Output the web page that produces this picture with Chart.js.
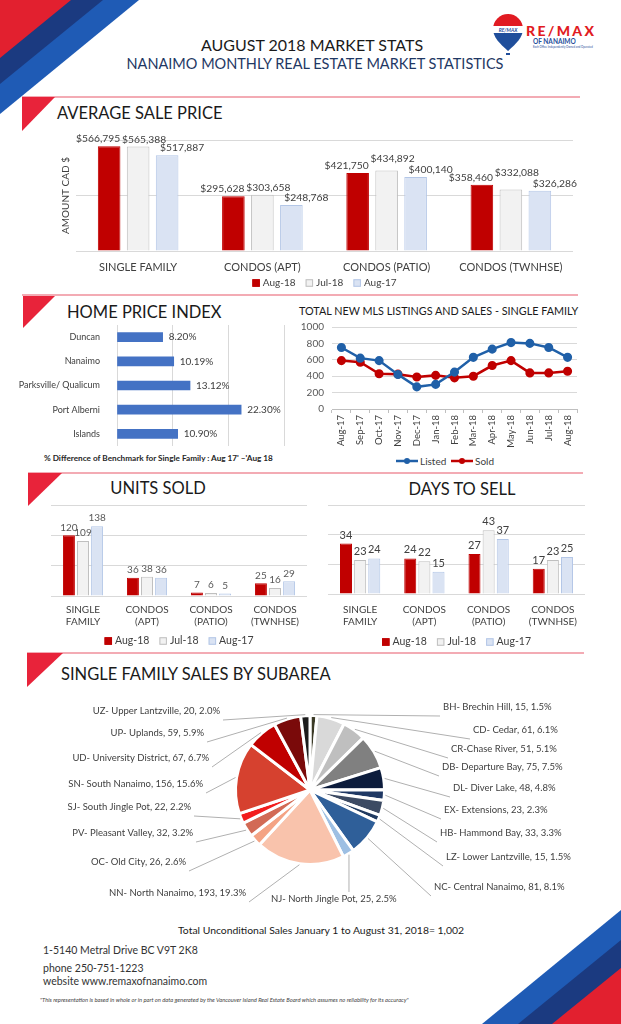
<!DOCTYPE html>
<html>
<head>
<meta charset="utf-8">
<script src="https://cdn.jsdelivr.net/npm/chart.js@4.4.0/dist/chart.umd.min.js"></script>
<style>
  html, body { margin: 0; padding: 0; background: #fff; }
  #page { position: relative; width: 621px; height: 1024px; overflow: hidden; font-family: Lato, "Open Sans", sans-serif; color: #262626; }
  #page canvas { position: absolute; }
  .txt { position: absolute; white-space: nowrap; line-height: 1; }
  .sec { font-size: 16.5px; color: #1a1a1a; }
  .lg { position: absolute; top: 455px; font-size: 10px; color: #404040; display: flex; align-items: center; }
  .lg svg { margin-right: 2px; }
</style>
</head>
<body>
<div id="page">
  <svg style="position:absolute;left:0;top:0" width="621" height="1024">
    <!-- corner stripes -->
    <polygon points="0,0 139,0 0,114" fill="#1f5bb5"/>
    <polygon points="0,0 103,0 0,84" fill="#1b3a80"/>
    <polygon points="0,0 71,0 0,58" fill="#e2202f"/>
    <polygon points="621,1024 482,1024 621,910" fill="#1f5bb5"/>
    <polygon points="621,1024 518,1024 621,940" fill="#1b3a80"/>
    <polygon points="621,1024 552,1024 621,968" fill="#e2202f"/>
    <!-- section rules -->
    <line x1="22" y1="97" x2="580" y2="97" stroke="#ef8f9b" stroke-width="1.5"/>
    <polygon points="22,97 55,97 22,131" fill="#e8233a"/>
    <line x1="22" y1="295" x2="578" y2="295" stroke="#ef8f9b" stroke-width="1.5"/>
    <polygon points="23,296 55,296 23,328" fill="#e8233a"/>
    <line x1="28" y1="473" x2="583" y2="473" stroke="#ef8f9b" stroke-width="1.5"/>
    <polygon points="28,473 62,473 28,506" fill="#e8233a"/>
    <line x1="27" y1="653" x2="584" y2="653" stroke="#ef8f9b" stroke-width="1.5"/>
    <polygon points="27,653 63,653 27,687" fill="#e8233a"/>
    <!-- logo -->
    <defs>
      <clipPath id="bal"><path d="M508,51 C500,44 493,37 493,29 A15,15 0 0 1 523,29 C523,37 516,44 508,51 Z"/></clipPath>
    </defs>
    <g clip-path="url(#bal)">
      <rect x="490" y="12" width="36" height="14" fill="#e11b22"/>
      <rect x="490" y="26" width="36" height="7" fill="#fff"/>
      <rect x="490" y="33" width="36" height="20" fill="#1f4e9b"/>
    </g>
    <text x="508" y="31.6" font-size="5" text-anchor="middle" fill="#1f4e9b" font-weight="bold" font-style="italic" font-family="Lato">RE/MAX</text>
    <rect x="506" y="53" width="4" height="2" fill="#1f4e9b"/>
    <text x="526" y="36" font-size="14" font-weight="900" fill="#e11b22" font-family="Lato" textLength="68">RE/MAX</text>
    <text x="533" y="44" font-size="6.5" font-weight="bold" fill="#1f4e9b" font-family="Lato">OF NANAIMO</text>
    <text x="533" y="48" font-size="2.8" fill="#1f4e9b" font-family="Lato">Each Office Independently Owned and Operated</text>
  </svg>

  <div class="txt" style="left:0;width:624px;text-align:center;top:37px;font-size:16px;color:#1a1a1a">AUGUST 2018 MARKET STATS</div>
  <div class="txt" style="left:0;width:630px;text-align:center;top:57px;font-size:14.5px;color:#1f3864">NANAIMO MONTHLY REAL ESTATE MARKET STATISTICS</div>

  <div class="txt sec" style="left:57px;top:105px">AVERAGE SALE PRICE</div>
  <div class="txt sec" style="left:67px;top:304px">HOME PRICE INDEX</div>
  <div class="txt" style="left:299px;top:306px;font-size:10.8px;color:#1a1a1a">TOTAL NEW MLS LISTINGS AND SALES - SINGLE FAMILY</div>
  <div class="txt sec" style="left:0;width:316px;text-align:center;top:480px">UNITS SOLD</div>
  <div class="txt sec" style="left:300px;width:324px;text-align:center;top:481px">DAYS TO SELL</div>
  <div class="txt sec" style="left:61px;top:666px">SINGLE FAMILY SALES BY SUBAREA</div>

  <div class="txt" style="left:44px;top:454px;font-size:8.2px;font-weight:bold;color:#262626">% Difference of Benchmark for Single Family : Aug 17' –'Aug 18</div>

  <div class="lg" style="left:396px"><svg width="22" height="8"><line x1="0" y1="4" x2="22" y2="4" stroke="#2060a8" stroke-width="2.5"/><circle cx="11" cy="4" r="3" fill="#2060a8"/></svg>Listed</div>
  <div class="lg" style="left:451px"><svg width="22" height="8"><line x1="0" y1="4" x2="22" y2="4" stroke="#c00000" stroke-width="2.5"/><circle cx="11" cy="4" r="3" fill="#c00000"/></svg>Sold</div>

  <canvas id="avgPrice" width="530" height="176" style="left:58px;top:118px"></canvas>
  <canvas id="hpi" width="282" height="122" style="left:10px;top:325px"></canvas>
  <canvas id="mls" width="300" height="140" style="left:292px;top:318px"></canvas>
  <canvas id="units" width="292" height="152" style="left:20px;top:498px"></canvas>
  <canvas id="days" width="290" height="152" style="left:300px;top:498px"></canvas>
  <canvas id="subarea" width="621" height="220" style="left:0;top:690px"></canvas>

  <div class="txt" style="left:178px;top:925px;font-size:10.4px;color:#1a1a1a">Total Unconditional Sales January 1 to August 31, 2018= 1,002</div>
  <div class="txt" style="left:43px;top:945px;font-size:10.5px;color:#333">1-5140 Metral Drive BC V9T 2K8</div>
  <div class="txt" style="left:43px;top:963px;font-size:10.5px;color:#333">phone 250-751-1223</div>
  <div class="txt" style="left:43px;top:976px;font-size:10.5px;color:#333">website www.remaxofnanaimo.com</div>
  <div class="txt" style="left:40px;top:997px;font-size:5.8px;font-style:italic;color:#444">"This representation is based in whole or in part on data generated by the Vancouver Island Real Estate Board which assumes no reliability for its accuracy"</div>
</div>

<script>
// ---- data ----
const seriesNames = ['Aug-18', 'Jul-18', 'Aug-17'];

const priceCategories = ['SINGLE FAMILY', 'CONDOS (APT)', 'CONDOS (PATIO)', 'CONDOS (TWNHSE)'];
const priceAug18 = [566795, 295628, 421750, 358460];
const priceJul18 = [565388, 303658, 434892, 332088];
const priceAug17 = [517887, 248768, 400140, 326286];

const hpiAreas = ['Duncan', 'Nanaimo', 'Parksville/ Qualicum', 'Port Alberni', 'Islands'];
const hpiChange = [8.20, 10.19, 13.12, 22.30, 10.90];

const mlsMonths = ['Aug-17', 'Sep-17', 'Oct-17', 'Nov-17', 'Dec-17', 'Jan-18', 'Feb-18', 'Mar-18', 'Apr-18', 'May-18', 'Jun-18', 'Jul-18', 'Aug-18'];
const mlsListed = [750, 620, 590, 420, 270, 300, 450, 630, 730, 810, 800, 750, 630];
const mlsSold = [590, 570, 430, 425, 390, 410, 380, 400, 530, 590, 440, 440, 460];

const typeCategories = [['SINGLE', 'FAMILY'], ['CONDOS', '(APT)'], ['CONDOS', '(PATIO)'], ['CONDOS', '(TWNHSE)']];
const unitsAug18 = [120, 36, 7, 25];
const unitsJul18 = [109, 38, 6, 16];
const unitsAug17 = [138, 36, 5, 29];

const daysAug18 = [34, 24, 27, 17];
const daysJul18 = [23, 22, 43, 23];
const daysAug17 = [24, 15, 37, 25];

const subareaNames = ['BH- Brechin Hill', 'CD- Cedar', 'CR-Chase River', 'DB- Departure Bay', 'DL- Diver Lake',
  'EX- Extensions', 'HB- Hammond Bay', 'LZ- Lower Lantzville', 'NC- Central Nanaimo', 'NJ- North Jingle Pot',
  'NN- North Nanaimo', 'OC- Old City', 'PV- Pleasant Valley', 'SJ- South Jingle Pot', 'SN- South Nanaimo',
  'UD- University District', 'UP- Uplands', 'UZ- Upper Lantzville'];
const subareaSales = [15, 61, 51, 75, 48, 23, 33, 15, 81, 25, 193, 26, 32, 22, 156, 67, 59, 20];
const subareaShare = [1.5, 6.1, 5.1, 7.5, 4.8, 2.3, 3.3, 1.5, 8.1, 2.5, 19.3, 2.6, 3.2, 2.2, 15.6, 6.7, 5.9, 2.0];

// ---- styling ----
const subareaColors = ['#3b3a26', '#d9d9d9', '#bfbfbf', '#808080', '#0c1c3c', '#1f3864', '#3c4a63', '#203a60',
  '#2f5f99', '#9dbfe3', '#f9c3ac', '#f4a384', '#d26a55', '#f21c1c', '#d6412f', '#c00000', '#7a0a0a', '#1c1c1c'];
// label anchors in canvas coords: [x, y, align]
const subareaLabelPos = [
  [443, 17, 'left'], [473, 40, 'left'], [451, 59, 'left'], [442, 77, 'left'], [453, 98, 'left'],
  [444, 120, 'left'], [440, 143, 'left'], [446, 167, 'left'], [434, 197, 'left'], [271, 209, 'below'],
  [246, 203, 'right'], [186, 172, 'right'], [193, 143, 'right'], [191, 117, 'right'], [203, 94, 'right'],
  [209, 68, 'right'], [204, 43, 'right'], [220, 21, 'right']
];

Chart.defaults.font.family = 'Lato, "Open Sans", sans-serif';
Chart.defaults.color = '#404040';
Chart.defaults.animation = false;

const grid = '#d9d9d9';

function barSets(a, b, c) {
  return [
    { label: seriesNames[0], data: a, backgroundColor: '#c00000', borderColor: '#c00000', borderWidth: 1 },
    { label: seriesNames[1], data: b, backgroundColor: '#f2f2f2', borderColor: '#bfbfbf', borderWidth: 1 },
    { label: seriesNames[2], data: c, backgroundColor: '#dae3f3', borderColor: '#b4c7e7', borderWidth: 1 }
  ];
}

// value labels above (or beside) bars; with "order", later labels move up when they collide
function valueLabels(format, size, color, offset, horizontal, dx, order) {
  return {
    id: 'valueLabels',
    afterDatasetsDraw(chart) {
      const ctx = chart.ctx;
      ctx.save();
      ctx.font = size + 'px Lato';
      ctx.fillStyle = color;
      const sets = chart.data.datasets;
      const seq = order || sets.map((_, i) => i);
      chart.data.labels.forEach((_, j) => {
        const placed = [];
        seq.forEach(i => {
          const ds = sets[i];
          const el = chart.getDatasetMeta(i).data[j];
          const t = format(ds.data[j]);
          if (horizontal) {
            ctx.textAlign = 'left'; ctx.textBaseline = 'middle';
            ctx.fillText(t, el.x + offset, el.y);
            return;
          }
          const w = ctx.measureText(t).width;
          const cx = el.x + (dx ? dx[i] : 0);
          let bottom = el.y - offset;
          if (order) {
            placed.forEach(p => {
              const hov = Math.min(cx + w / 2, p.x + p.w / 2) - Math.max(cx - w / 2, p.x - p.w / 2);
              const vov = Math.min(bottom, p.bottom) - Math.max(bottom - size, p.bottom - size);
              if (hov > 1 && vov > 3) bottom = p.bottom - size - 1;
            });
          }
          placed.push({ x: cx, w: w, bottom: bottom });
          ctx.textAlign = 'center'; ctx.textBaseline = 'bottom';
          ctx.fillText(t, cx, bottom);
        });
      });
      ctx.restore();
    }
  };
}

// square-marker legend drawn under the plot
function boxLegend(gap, size) {
  return {
    id: 'boxLegend',
    afterDraw(chart) {
      const ctx = chart.ctx;
      ctx.save();
      ctx.font = size + 'px Lato';
      ctx.textBaseline = 'middle'; ctx.textAlign = 'left';
      const box = 7.5, g = 3, sp = 10;
      const items = chart.data.datasets.map(ds => ({ ds: ds, w: ctx.measureText(ds.label).width }));
      const total = items.reduce((s, it) => s + box + g + it.w, 0) + sp * (items.length - 1);
      let x = (chart.chartArea.left + chart.chartArea.right) / 2 - total / 2;
      const y = chart.chartArea.bottom + gap;
      items.forEach(it => {
        ctx.fillStyle = it.ds.backgroundColor;
        ctx.fillRect(x, y - box / 2, box, box);
        ctx.strokeStyle = it.ds.borderColor; ctx.lineWidth = 1;
        ctx.strokeRect(x + 0.5, y - box / 2 + 0.5, box - 1, box - 1);
        x += box + g;
        ctx.fillStyle = '#404040';
        ctx.fillText(it.ds.label, x, y);
        x += it.w + sp;
      });
      ctx.restore();
    }
  };
}

function noPad(s) { s.paddingTop = 0; s.paddingBottom = 0; }

// Average sale price
new Chart(document.getElementById('avgPrice'), {
  type: 'bar',
  data: { labels: priceCategories, datasets: barSets(priceAug18, priceJul18, priceAug17) },
  options: {
    responsive: false, devicePixelRatio: 1,
    layout: { padding: { top: 22, right: 15, bottom: 3 } },
    datasets: { bar: { categoryPercentage: 0.7, barPercentage: 0.78 } },
    plugins: { legend: { display: false }, tooltip: { enabled: false } },
    scales: {
      x: { grid: { display: false }, border: { display: false }, ticks: { font: { size: 11 }, color: '#404040', padding: 2 }, afterFit(s) { s.height = 40; } },
      y: {
        min: 0, max: 600000,
        ticks: { display: false, stepSize: 300000 },
        grid: { color: grid, drawTicks: false }, border: { display: false },
        title: { display: true, text: 'AMOUNT CAD $', font: { size: 10 }, color: '#404040', padding: 2 },
        afterFit(s) { s.width = 18; }
      }
    }
  },
  plugins: [valueLabels(v => '$' + v.toLocaleString('en-US'), 10.3, '#404040', 2, false, [-11, 6, 15], [0, 2, 1]), boxLegend(32, 10)]
});

// Home price index
new Chart(document.getElementById('hpi'), {
  type: 'bar',
  data: { labels: hpiAreas, datasets: [{ data: hpiChange, backgroundColor: '#4472c4', barThickness: 9 }] },
  options: {
    indexAxis: 'y', responsive: false, devicePixelRatio: 1,
    layout: { padding: { right: 8, bottom: 1 } },
    plugins: { legend: { display: false }, tooltip: { enabled: false } },
    scales: {
      x: { min: 0, max: 30, ticks: { display: false, stepSize: 10 }, grid: { color: grid, drawTicks: false }, border: { display: false }, afterFit(s) { s.height = 0; } },
      y: { grid: { display: false }, border: { display: false }, ticks: { font: { size: 9 }, color: '#404040', padding: 9 }, afterFit(s) { s.width = 107; noPad(s); } }
    }
  },
  plugins: [valueLabels(v => v.toFixed(2) + '%', 10, '#404040', 6, true)]
});

// MLS listings & sales
new Chart(document.getElementById('mls'), {
  type: 'line',
  data: {
    labels: mlsMonths,
    datasets: [
      { label: 'Listed', data: mlsListed, borderColor: '#2060a8', backgroundColor: '#2060a8', borderWidth: 2.5, pointRadius: 3.3, tension: 0 },
      { label: 'Sold', data: mlsSold, borderColor: '#c00000', backgroundColor: '#c00000', borderWidth: 2.5, pointRadius: 3.3, tension: 0 }
    ]
  },
  options: {
    responsive: false, devicePixelRatio: 1,
    layout: { padding: { top: 9, right: 15 } },
    plugins: { legend: { display: false }, tooltip: { enabled: false } },
    scales: {
      x: {
        offset: true,
        grid: { display: true, drawOnChartArea: false, offset: true, tickLength: 4, color: '#bfbfbf' },
        border: { display: true, color: '#bfbfbf' },
        ticks: { minRotation: 90, maxRotation: 90, font: { size: 9.5 }, color: '#404040', padding: 2 },
        afterFit(s) { s.height = 49; }
      },
      y: {
        min: 0, max: 1000,
        ticks: { stepSize: 200, font: { size: 10 }, color: '#595959', padding: 8, callback: v => String(v) },
        grid: { color: grid, drawTicks: false }, border: { display: false },
        afterFit(s) { s.width = 40; noPad(s); }
      }
    }
  }
});

function smallBarOptions(maxV, step, yWidth, bottomPad, tickPad) {
  return {
    responsive: false, devicePixelRatio: 1,
    layout: { padding: { top: 7, right: 5, bottom: bottomPad } },
    datasets: { bar: { categoryPercentage: 0.66, barPercentage: 0.85 } },
    plugins: { legend: { display: false }, tooltip: { enabled: false } },
    scales: {
      x: { grid: { display: false }, border: { display: false }, ticks: { font: { size: 10 }, color: '#404040', padding: tickPad }, afterFit(s) { s.height = 44; } },
      y: { min: 0, max: maxV, ticks: { display: false, stepSize: step }, grid: { color: grid, drawTicks: false }, border: { display: false }, afterFit(s) { s.width = yWidth; } }
    }
  };
}

new Chart(document.getElementById('units'), {
  type: 'bar',
  data: { labels: typeCategories, datasets: barSets(unitsAug18, unitsJul18, unitsAug17) },
  options: smallBarOptions(180, 60, 31, 10, 0),
  plugins: [valueLabels(v => String(v), 10, '#595959', 3, false), boxLegend(45, 10.5)]
});

new Chart(document.getElementById('days'), {
  type: 'bar',
  data: { labels: typeCategories, datasets: barSets(daysAug18, daysJul18, daysAug17) },
  options: smallBarOptions(60, 20, 28, 12, 2),
  plugins: [valueLabels(v => String(v), 11, '#404040', 3, false), boxLegend(48, 10.5)]
});

// Subarea pie with leader-line labels
const pieLabels = {
  id: 'pieLabels',
  afterDatasetsDraw(chart) {
    const ctx = chart.ctx;
    const meta = chart.getDatasetMeta(0);
    ctx.save();
    ctx.font = '9.5px Lato';
    ctx.fillStyle = '#404040';
    ctx.strokeStyle = '#b0b0b0';
    ctx.lineWidth = 1;
    ctx.textBaseline = 'middle';
    meta.data.forEach((arc, i) => {
      const [lx, ly, align] = subareaLabelPos[i];
      const text = subareaNames[i] + ', ' + subareaSales[i] + ', ' + subareaShare[i].toFixed(1) + '%';
      const mid = (arc.startAngle + arc.endAngle) / 2;
      const px = arc.x + Math.cos(mid) * (arc.outerRadius + 1);
      const py = arc.y + Math.sin(mid) * (arc.outerRadius + 1);
      let ex, ey;
      if (align === 'left') { ex = lx - 3; ey = ly + 9; }
      else if (align === 'right') { ex = lx + 3; ey = ly + 9; }
      else { ex = px; ey = ly - 7; }
      ctx.beginPath(); ctx.moveTo(px, py); ctx.lineTo(ex, ey); ctx.stroke();
      ctx.textAlign = align === 'right' ? 'right' : 'left';
      ctx.fillText(text, lx, ly);
    });
    ctx.restore();
  }
};

new Chart(document.getElementById('subarea'), {
  type: 'pie',
  data: { labels: subareaNames, datasets: [{ data: subareaSales, backgroundColor: subareaColors, borderColor: '#ffffff', borderWidth: 3 }] },
  options: {
    responsive: false, devicePixelRatio: 1,
    layout: { padding: { left: 234, right: 235, top: 24, bottom: 44 } },
    plugins: { legend: { display: false }, tooltip: { enabled: false } }
  },
  plugins: [pieLabels]
});
</script>
</body>
</html>
